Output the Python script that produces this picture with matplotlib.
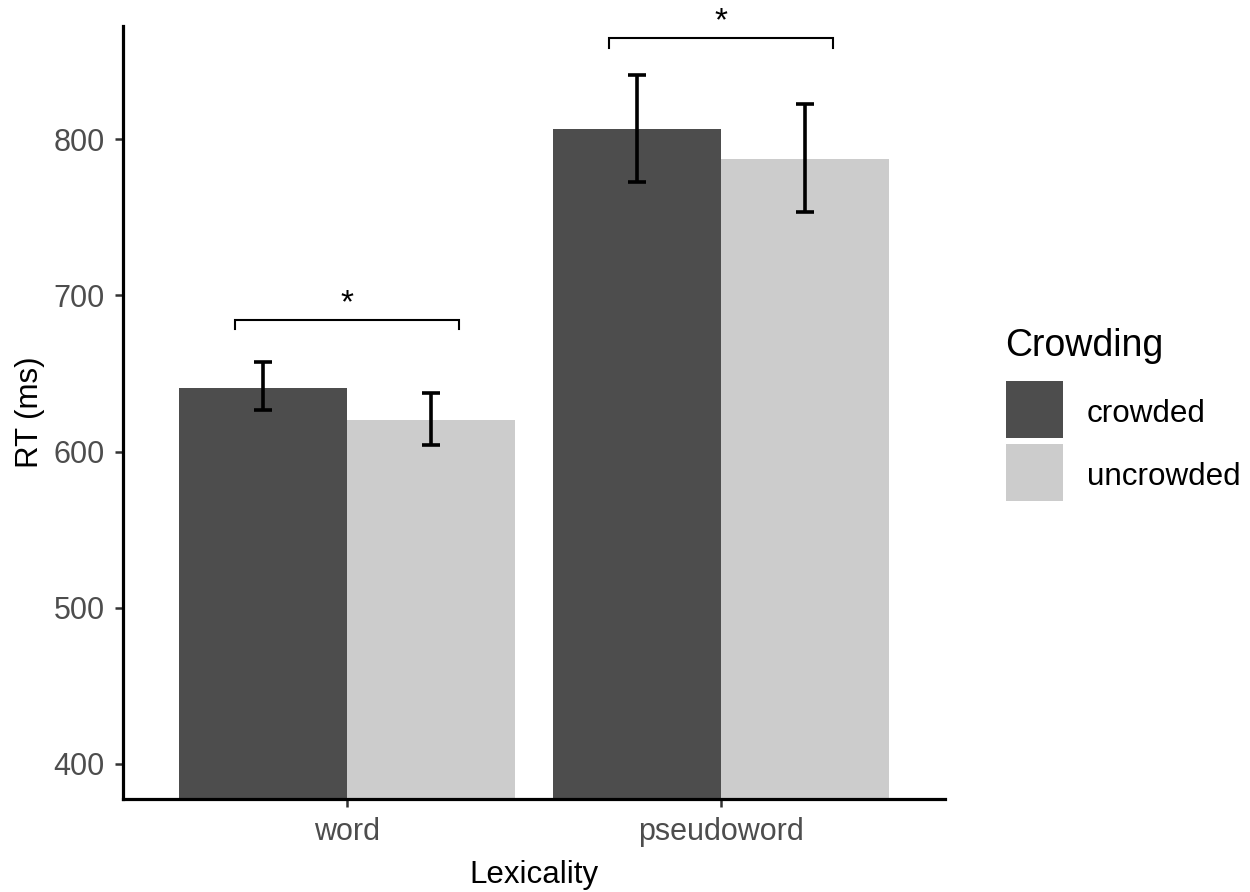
import numpy as np
import matplotlib
matplotlib.use('Agg')
import matplotlib.pyplot as plt
from matplotlib.patches import Rectangle

plt.rcParams['font.family'] = ['Liberation Sans', 'DejaVu Sans']

# data
lexicality = ['word', 'pseudoword']
crowding = ['crowded', 'uncrowded']
rt_mean = {'crowded': [640.9, 806.4], 'uncrowded': [620.4, 787.6]}
rt_low = {'crowded': [626.4, 772.3], 'uncrowded': [603.9, 753.1]}
rt_high = {'crowded': [657.1, 841.0], 'uncrowded': [637.6, 822.4]}
colors = {'crowded': '#4D4D4D', 'uncrowded': '#CCCCCC'}

# significance brackets: (x left, x right, y top, y tick bottom)
brackets = [(0.70, 1.30, 684.1, 678.3), (1.70, 2.30, 864.7, 858.7)]

W, H = 1250, 892
fig = plt.figure(figsize=(W / 100, H / 100), dpi=100)
ax = fig.add_axes([123 / W, 1 - 799 / H, (945 - 123) / W, (799 - 26) / H])

x = np.arange(1, len(lexicality) + 1)
w = 0.45
for i, c in enumerate(crowding):
    pos = x + (i - 0.5) * w
    m = np.array(rt_mean[c])
    ax.bar(pos, m - 300, bottom=300, width=w, color=colors[c], label=c, zorder=1)
    err = [m - np.array(rt_low[c]), np.array(rt_high[c]) - m]
    ax.errorbar(pos, m, yerr=err, fmt='none', ecolor='black', elinewidth=2.6,
                capsize=6.2, capthick=2.6, zorder=3)

for x0, x1, ytop, ybot in brackets:
    ax.plot([x0, x0, x1, x1], [ybot, ytop, ytop, ybot], color='black', lw=1.5,
            solid_joinstyle='miter', clip_on=False)
    ax.text((x0 + x1) / 2, ytop + 0.5, '*', ha='center', va='bottom', fontsize=24)

ax.set_xlim(0.4, 2.6)
ax.set_ylim(377.5, 872.5)
ax.set_xticks(x)
ax.set_xticklabels(lexicality)
ax.set_yticks([400, 500, 600, 700, 800])

for s in ['top', 'right']:
    ax.spines[s].set_visible(False)
for s in ['left', 'bottom']:
    ax.spines[s].set_linewidth(2.3)
ax.tick_params(axis='both', length=6, width=1.8, color='#333333',
               labelcolor='#4D4D4D', labelsize=22)
ax.tick_params(axis='x', pad=7)
ax.tick_params(axis='y', pad=7)

ax.set_xlabel('Lexicality', fontsize=22.5, labelpad=9)
ax.set_ylabel('RT (ms)', fontsize=22.5, labelpad=6)

# legend drawn by hand: title, square keys, labels
fig.text(1005 / W, 1 - 356 / H, 'Crowding', fontsize=27, va='baseline', ha='left')
key_top = 381
key = 57
for i, c in enumerate(crowding):
    top = key_top + i * (key + 5.5)
    fig.add_artist(Rectangle((1006 / W, 1 - (top + key) / H), key / W, key / H,
                             transform=fig.transFigure, facecolor=colors[c],
                             edgecolor='none'))
    fig.text(1087 / W, 1 - (top + 41) / H, c, fontsize=22.6, va='baseline', ha='left')

fig.savefig('out.png', dpi=100)
